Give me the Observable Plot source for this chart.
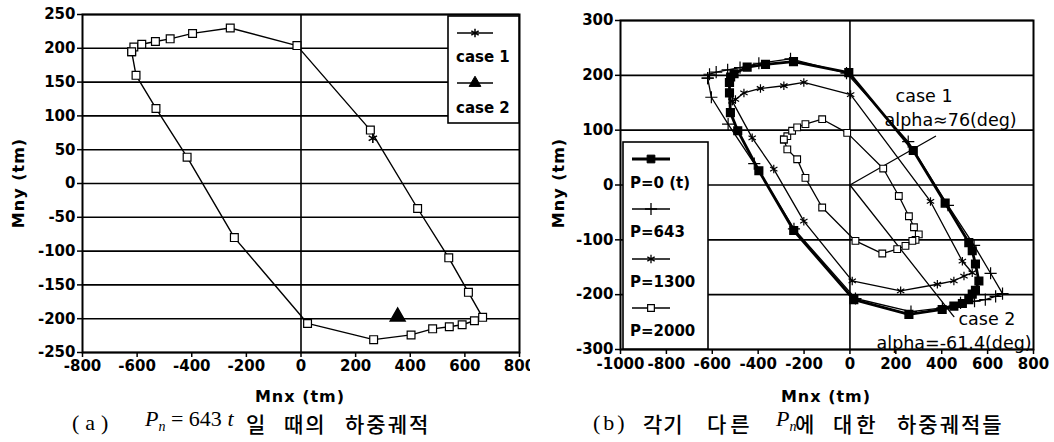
<!DOCTYPE html>
<html><head><meta charset="utf-8">
<script src="https://cdn.jsdelivr.net/npm/d3@7"></script>
<script src="https://cdn.jsdelivr.net/npm/@observablehq/plot@0.6"></script>
<style>
html,body{margin:0;padding:0;background:#fff;}
#root{position:relative;width:1054px;height:442px;overflow:hidden;background:#fff;}
.chart{position:absolute;top:0;}
.lbl{position:absolute;font-family:"DejaVu Sans",sans-serif;font-size:16px;letter-spacing:1px;font-weight:bold;color:#000;white-space:nowrap;}
.ylbl{transform:translate(-50%,-50%) rotate(-90deg);}
.xlbl{transform:translate(-50%,-50%);}
.seg{position:absolute;top:423px;transform:translateY(-50%);white-space:pre;color:#000;line-height:26px;}
.ser{font-family:"Liberation Serif",serif;font-size:22px;}
.kr{font-family:"Noto Sans CJK KR",sans-serif;font-size:21px;font-weight:500;}
sub{font-size:14px;}
</style></head>
<body><div id="root"></div>
<script>
// ---------- tick values ----------
const xTicksA = [-800,-600,-400,-200,0,200,400,600,800];
const yTicksA = [-250,-200,-150,-100,-50,0,50,100,150,200,250];
const xTicksB = [-1000,-800,-600,-400,-200,0,200,400,600,800];
const yTicksB = [-300,-200,-100,0,100,200,300];

// ---------- panel (a): Pn = 643 t load contour (closed loop) ----------
const p643X = [-620,-612,-583,-533,-479,-397,-259,-15,254,427,541,613,665,635,590,543,482,403,266,24,-244,-417,-531,-604,-620];
const p643Y = [195,202,206,210,214,222,230,204,79,-37,-110,-161,-198,-203,-209,-212,-215,-224,-231,-207,-80,39,111,160,195];
const case1X = [263], case1Y = [67];
const case2X = [354], case2Y = [-197];

// ---------- panel (b): contours for different Pn ----------
const p0X = [-525,-520,-505,-448,-368,-246,-5,276,415,518,533,547,562,547,533,518,490,453,402,257,17,-245,-397,-489,-521,-525,-525];
const p0Y = [187,197,203,215,220,225,205,63,-33,-105,-120,-144,-175,-192,-199,-209,-216,-221,-227,-236,-209,-83,26,99,132,168,187];
const p1300X = [-513,-499,-462,-390,-288,-201,3,351,490,533,497,453,381,221,10,-201,-332,-426,-513];
const p1300Y = [153,156,168,176,181,187,165,-30,-139,-160,-166,-175,-181,-193,-175,-66,29,86,153];
const p2000X = [-288,-273,-252,-230,-194,-121,-12,145,213,257,279,300,286,272,242,206,141,24,-121,-194,-230,-273,-288];
const p2000Y = [83,89,99,105,111,120,95,30,-20,-57,-77,-90,-100,-102,-111,-117,-125,-102,-41,13,47,65,83];
const case1LineX = [0,373], case1LineY = [0,89];
const case2LineX = [0,453], case2LineY = [0,-240];
const annotText = ["case 1","alpha\u224876(deg)","case 2","alpha=-61.4(deg)"];
const annotX = [199,151,473,116];
const annotY = [162,117,-245,-288];

// ---------- helpers ----------
const rows = (xs, ys) => xs.map((x, i) => ({x, y: ys[i]}));
const fmt = d => String(d);
const root = document.getElementById("root");
const baseStyle = {background:"#fff", color:"#000", fontFamily:"DejaVu Sans, sans-serif", fontSize:"15px", fontWeight:"bold", overflow:"visible"};

function place(svg, left) {
  const d = document.createElement("div");
  d.className = "chart"; d.style.left = left + "px";
  d.appendChild(svg); root.appendChild(d);
}
function label(text, x, y, cls) {
  const d = document.createElement("div");
  d.className = "lbl " + cls; d.textContent = text;
  d.style.left = x + "px"; d.style.top = y + "px";
  root.appendChild(d);
}
function seg(html, x, cls, extra) {
  const d = document.createElement("div");
  d.className = "seg " + cls; d.innerHTML = html;
  d.style.left = x + "px";
  if (extra) d.style.letterSpacing = extra;
  root.appendChild(d);
}
function legend(svg, box, entries) {
  const g = d3.select(svg).append("g").attr("text-anchor", "start");
  g.append("rect").attr("x", box.x).attr("y", box.y).attr("width", box.w).attr("height", box.h)
    .attr("fill", "#fff").attr("stroke", "#000").attr("stroke-width", 1.6);
  for (const e of entries) {
    g.append("line").attr("x1", box.lx1).attr("x2", box.lx2).attr("y1", e.ly).attr("y2", e.ly)
      .attr("stroke", "#000").attr("stroke-width", e.sw);
    g.append("path").attr("transform", `translate(${(box.lx1 + box.lx2) / 2},${e.ly})`)
      .attr("d", d3.symbol(e.sym, e.size)())
      .attr("fill", e.fill).attr("stroke", "#000").attr("stroke-width", e.ssw);
    g.append("text").attr("x", box.tx).attr("y", e.ty).attr("dy", "0.35em").attr("text-anchor", "start")
      .attr("font-size", 15).attr("font-weight", "bold").attr("fill", "#000").text(e.text);
  }
}

// ---------- panel (a) ----------
const dataA = rows(p643X, p643Y);
const A = Plot.plot({
  width: 530, height: 410, marginLeft: 82, marginRight: 11, marginTop: 14, marginBottom: 58,
  style: baseStyle,
  x: {domain: [-800, 800]}, y: {domain: [-250, 250]},
  marks: [
    Plot.ruleY(yTicksA, {stroke: "#000", strokeWidth: 1.6}),
    Plot.ruleX([0], {stroke: "#000", strokeWidth: 1.6}),
    Plot.line(dataA, {x: "x", y: "y", stroke: "#000", strokeWidth: 1.4}),
    Plot.dot(dataA, {x: "x", y: "y", symbol: "square", r: 4.4, fill: "#fff", stroke: "#000", strokeWidth: 1.2}),
    Plot.dot(rows(case1X, case1Y), {x: "x", y: "y", symbol: "asterisk", r: 4.5, stroke: "#000", strokeWidth: 1.6}),
    Plot.dot(rows(case2X, case2Y), {x: "x", y: "y", symbol: "triangle", r: 5.5, fill: "#000", stroke: "#000"}),
    Plot.frame({stroke: "#000", strokeWidth: 2}),
    Plot.axisX(xTicksA, {tickSize: 5, tickPadding: 3, strokeWidth: 1.5, label: null, tickFormat: fmt}),
    Plot.axisY(yTicksA, {tickSize: 5, tickPadding: 2, strokeWidth: 1.5, label: null, tickFormat: fmt})
  ]
});
legend(A, {x: 448, y: 16, w: 71, h: 107, lx1: 457, lx2: 493, tx: 456}, [
  {sym: d3.symbolAsterisk, size: 50, fill: "none", ssw: 1.5, sw: 1.4, ly: 33, ty: 57, text: "case 1"},
  {sym: d3.symbolTriangle, size: 60, fill: "#000", ssw: 1, sw: 1.4, ly: 83, ty: 108, text: "case 2"}
]);
place(A, 0);
label("Mny (tm)", 18, 183, "ylbl");
label("Mnx (tm)", 300, 396, "xlbl");

// ---------- panel (b) ----------
const B = Plot.plot({
  width: 524, height: 410, marginLeft: 90, marginRight: 21, marginTop: 20, marginBottom: 61,
  style: baseStyle,
  x: {domain: [-1000, 800]}, y: {domain: [-300, 300]},
  marks: [
    Plot.ruleY(yTicksB, {stroke: "#000", strokeWidth: 1.6}),
    Plot.ruleX([0], {stroke: "#000", strokeWidth: 1.6}),
    Plot.line(rows(case1LineX, case1LineY), {x: "x", y: "y", stroke: "#000", strokeWidth: 1.3}),
    Plot.line(rows(case2LineX, case2LineY), {x: "x", y: "y", stroke: "#000", strokeWidth: 1.3}),
    Plot.line(rows(p2000X, p2000Y), {x: "x", y: "y", stroke: "#000", strokeWidth: 1.3}),
    Plot.line(rows(p1300X, p1300Y), {x: "x", y: "y", stroke: "#000", strokeWidth: 1.3}),
    Plot.line(dataA, {x: "x", y: "y", stroke: "#000", strokeWidth: 1.3}),
    Plot.line(rows(p0X, p0Y), {x: "x", y: "y", stroke: "#000", strokeWidth: 2.8}),
    Plot.dot(rows(p2000X, p2000Y), {x: "x", y: "y", symbol: "square", r: 3.8, fill: "#fff", stroke: "#000", strokeWidth: 1.1}),
    Plot.dot(rows(p1300X, p1300Y), {x: "x", y: "y", symbol: "asterisk", r: 4, stroke: "#000", strokeWidth: 1.2}),
    Plot.dot(dataA, {x: "x", y: "y", symbol: "plus", r: 4, stroke: "#000", strokeWidth: 1.2}),
    Plot.dot(rows(p0X, p0Y), {x: "x", y: "y", symbol: "square", r: 4.3, fill: "#000", stroke: "#000"}),
    Plot.text(annotText.map((t, i) => ({t, x: annotX[i], y: annotY[i]})),
      {x: "x", y: "y", text: "t", textAnchor: "start", fontSize: 17.5, fontWeight: "normal", fill: "#000"}),
    Plot.frame({stroke: "#000", strokeWidth: 2}),
    Plot.axisX(xTicksB, {tickSize: 5, tickPadding: 4, strokeWidth: 1.5, label: null, tickFormat: fmt}),
    Plot.axisY(yTicksB, {tickSize: 5, tickPadding: 2, strokeWidth: 1.5, label: null, tickFormat: fmt})
  ]
});
legend(B, {x: 93, y: 142, w: 85, h: 207, lx1: 102, lx2: 140, tx: 100}, [
  {sym: d3.symbolSquare, size: 60, fill: "#000", ssw: 1, sw: 2.8, ly: 159, ty: 183, text: "P=0 (t)"},
  {sym: d3.symbolPlus, size: 50, fill: "none", ssw: 1.3, sw: 1.4, ly: 209, ty: 232, text: "P=643"},
  {sym: d3.symbolAsterisk, size: 50, fill: "none", ssw: 1.3, sw: 1.4, ly: 259, ty: 282, text: "P=1300"},
  {sym: d3.symbolSquare, size: 45, fill: "#fff", ssw: 1.2, sw: 1.4, ly: 308, ty: 331, text: "P=2000"}
]);
place(B, 530);
label("Mny (tm)", 558, 183, "ylbl");
label("Mnx (tm)", 826, 396, "xlbl");

// ---------- captions ----------
seg("(a)", 72, "ser", "6px");
seg('<i>P</i><sub><i>n</i></sub> = 643 <i>t</i>', 145, "ser");
seg("일", 246, "kr");
seg("때의", 284, "kr", "2px");
seg("하중궤적", 345, "kr", "2px");
seg("(b)", 593, "ser", "3px");
seg("각기", 643, "kr", "1px");
seg("다른", 707, "kr", "4px");
seg('<i>P</i><sub><i>n</i></sub>', 776, "ser");
seg("에", 795, "kr");
seg("대한", 833, "kr", "4px");
seg("하중궤적들", 897, "kr", "2px");
</script></body></html>
